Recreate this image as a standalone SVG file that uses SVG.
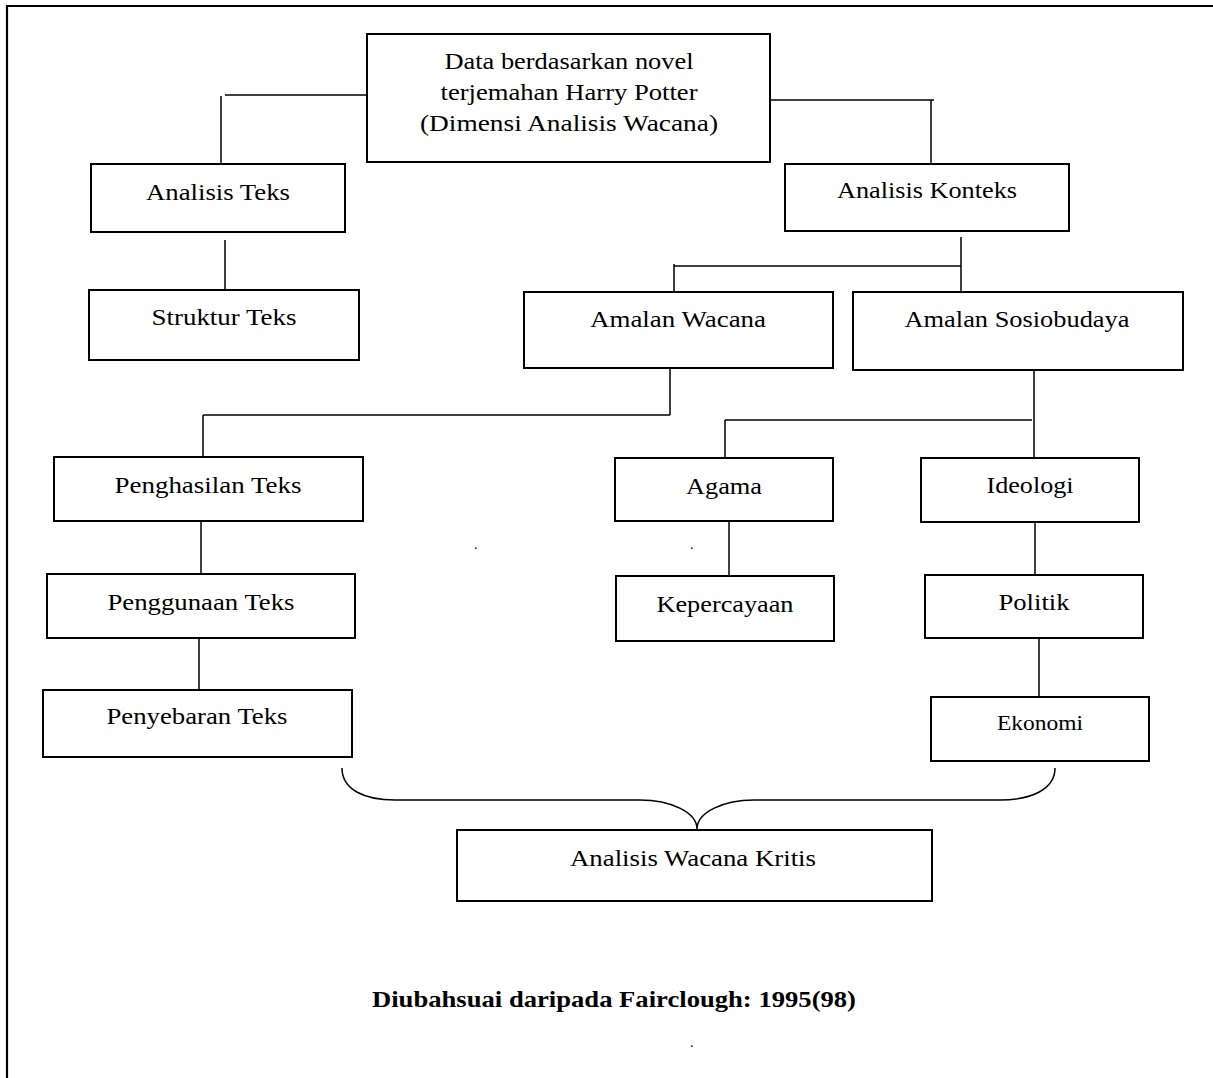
<svg xmlns="http://www.w3.org/2000/svg" width="1213" height="1078" viewBox="0 0 1213 1078">
<style>
.box{fill:#fff;stroke:#000;stroke-width:2}
.t{font-family:"Liberation Serif","Times New Roman",serif;font-size:24px;fill:#000;text-anchor:middle}
.c line,.c path{stroke:#000;stroke-width:1.5;fill:none}
.cap{font-family:"Liberation Serif","Times New Roman",serif;font-size:24px;font-weight:bold;fill:#000;text-anchor:middle}
.dot{font-family:"Liberation Serif",serif;font-size:14px;fill:#000}
</style>
<rect width="1213" height="1078" fill="#fff"/>
<path d="M7,1078 V6 H1213" fill="none" stroke="#000" stroke-width="2.2"/>
<g class="c" id="connectors">
<line x1="225" y1="95" x2="368" y2="95"/>
<line x1="221" y1="96" x2="221" y2="165"/>
<line x1="768" y1="100" x2="934" y2="100"/>
<line x1="931" y1="100" x2="931" y2="166"/>
<line x1="225" y1="240" x2="225" y2="290"/>
<line x1="961" y1="237" x2="961" y2="292"/>
<line x1="674" y1="266" x2="961" y2="266"/>
<line x1="674" y1="264" x2="674" y2="293"/>
<line x1="670" y1="367" x2="670" y2="415"/>
<line x1="203" y1="415" x2="670" y2="415"/>
<line x1="203" y1="415" x2="203" y2="458"/>
<line x1="1034" y1="370" x2="1034" y2="459"/>
<line x1="725" y1="420" x2="1032" y2="420"/>
<line x1="725" y1="420" x2="725" y2="459"/>
<line x1="729" y1="518" x2="729" y2="580"/>
<line x1="201" y1="517" x2="201" y2="581"/>
<line x1="199" y1="632" x2="199" y2="692"/>
<line x1="1035" y1="512" x2="1035" y2="577"/>
<line x1="1039" y1="632" x2="1039" y2="697"/>
<path d="M342,768 C342,790 365,800 395,800 H640 C670,800 697,812 697,829 C697,812 724,800 754,800 H1000 C1030,800 1055,790 1055,768"/>
</g>
<g id="n-top"><rect class="box" x="367" y="34" width="403" height="128"/>
<text class="t" x="569" y="69" textLength="249" lengthAdjust="spacingAndGlyphs">Data berdasarkan novel</text>
<text class="t" x="569" y="100" textLength="257" lengthAdjust="spacingAndGlyphs">terjemahan Harry Potter</text>
<text class="t" x="569" y="131" textLength="298" lengthAdjust="spacingAndGlyphs">(Dimensi Analisis Wacana)</text></g>
<g id="n-analisis-teks"><rect class="box" x="91" y="164" width="254" height="68"/>
<text class="t" x="218" y="200" textLength="144" lengthAdjust="spacingAndGlyphs">Analisis Teks</text></g>
<g id="n-analisis-konteks"><rect class="box" x="785" y="164" width="284" height="67"/>
<text class="t" x="927" y="198" textLength="180" lengthAdjust="spacingAndGlyphs">Analisis Konteks</text></g>
<g id="n-struktur-teks"><rect class="box" x="89" y="290" width="270" height="70"/>
<text class="t" x="224" y="325" textLength="145" lengthAdjust="spacingAndGlyphs">Struktur Teks</text></g>
<g id="n-amalan-wacana"><rect class="box" x="524" y="292" width="309" height="76"/>
<text class="t" x="678" y="327" textLength="176" lengthAdjust="spacingAndGlyphs">Amalan Wacana</text></g>
<g id="n-amalan-sosiobudaya"><rect class="box" x="853" y="292" width="330" height="78"/>
<text class="t" x="1017" y="327" textLength="225" lengthAdjust="spacingAndGlyphs">Amalan Sosiobudaya</text></g>
<g id="n-penghasilan"><rect class="box" x="54" y="457" width="309" height="64"/>
<text class="t" x="208" y="493" textLength="187" lengthAdjust="spacingAndGlyphs">Penghasilan Teks</text></g>
<g id="n-agama"><rect class="box" x="615" y="458" width="218" height="63"/>
<text class="t" x="724" y="494" textLength="76" lengthAdjust="spacingAndGlyphs">Agama</text></g>
<g id="n-ideologi"><rect class="box" x="921" y="458" width="218" height="64"/>
<text class="t" x="1030" y="493" textLength="87" lengthAdjust="spacingAndGlyphs">Ideologi</text></g>
<g id="n-penggunaan"><rect class="box" x="47" y="574" width="308" height="64"/>
<text class="t" x="201" y="610" textLength="187" lengthAdjust="spacingAndGlyphs">Penggunaan Teks</text></g>
<g id="n-kepercayaan"><rect class="box" x="616" y="576" width="218" height="65"/>
<text class="t" x="725" y="612" textLength="137" lengthAdjust="spacingAndGlyphs">Kepercayaan</text></g>
<g id="n-politik"><rect class="box" x="925" y="575" width="218" height="63"/>
<text class="t" x="1034" y="610" textLength="71" lengthAdjust="spacingAndGlyphs">Politik</text></g>
<g id="n-penyebaran"><rect class="box" x="43" y="690" width="309" height="67"/>
<text class="t" x="197" y="724" textLength="181" lengthAdjust="spacingAndGlyphs">Penyebaran Teks</text></g>
<g id="n-ekonomi"><rect class="box" x="931" y="697" width="218" height="64"/>
<text class="t" x="1040" y="730" style="font-size:21px" textLength="86" lengthAdjust="spacingAndGlyphs">Ekonomi</text></g>
<g id="n-awk"><rect class="box" x="457" y="830" width="475" height="71"/>
<text class="t" x="693" y="866" textLength="246" lengthAdjust="spacingAndGlyphs">Analisis Wacana Kritis</text></g>
<text class="cap" x="614" y="1007" textLength="484" lengthAdjust="spacingAndGlyphs">Diubahsuai daripada Fairclough: 1995(98)</text>
<text class="dot" x="474" y="549">.</text>
<text class="dot" x="690" y="549">.</text>
<text class="dot" x="690" y="1047">.</text>
</svg>
